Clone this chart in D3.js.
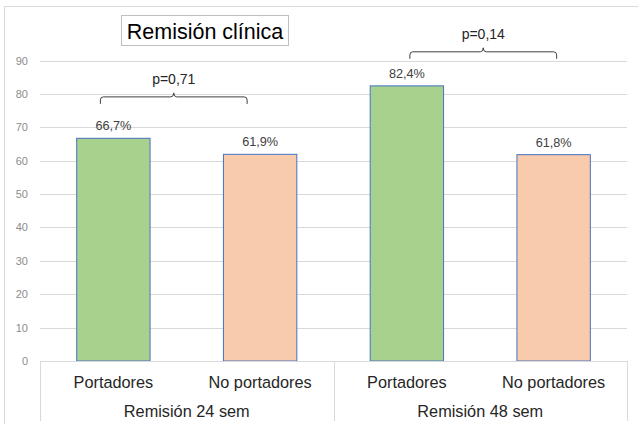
<!DOCTYPE html>
<html>
<head>
<meta charset="utf-8">
<script src="https://cdn.jsdelivr.net/npm/d3@7"></script>
<style>
  body { margin: 0; background: #fff; }
  svg { font-family: 'Liberation Sans', Arial, sans-serif; }
</style>
</head>
<body>
<div id="chart"></div>
<script>
// datos del gráfico
const grupos = ['Remisión 24 sem', 'Remisión 48 sem']
const categorias = ['Portadores', 'No portadores', 'Portadores', 'No portadores']
const valores = [66.7, 61.9, 82.4, 61.8]
const etiquetas = ['66,7%', '61,9%', '82,4%', '61,8%']
const colores = ['#a9d18e', '#f8cbad', '#a9d18e', '#f8cbad']
const yTicks = [0, 10, 20, 30, 40, 50, 60, 70, 80, 90]
const pValores = ['p=0,71', 'p=0,14']
const pNivel = [79.1, 92.6]

const width = 638
const height = 424
const margin = {top: 60.5, left: 40, right: 11, bottom: 63}
const plotBottom = 361

const svg = d3.select('#chart')
  .append('svg')
  .attr('width', width)
  .attr('height', height)

// marco exterior
svg.append('rect')
  .attr('x', 4.5).attr('y', 6.5)
  .attr('width', 640).attr('height', 430)
  .attr('fill', 'none')
  .attr('stroke', '#d9d9d9')

const x = d3.scaleBand()
  .domain(d3.range(categorias.length))
  .range([margin.left, width - margin.right])
  .paddingInner(0.5)
  .paddingOuter(0.25)

const y = d3.scaleLinear()
  .domain([0, 90])
  .range([plotBottom, margin.top])

// rejilla
svg.append('g')
  .selectAll('line')
  .data(yTicks.slice(1))
  .enter()
  .append('line')
  .attr('x1', margin.left)
  .attr('x2', width - margin.right)
  .attr('y1', d => Math.round(y(d)) + 0.5)
  .attr('y2', d => Math.round(y(d)) + 0.5)
  .attr('stroke', '#d9d9d9')

svg.append('g')
  .selectAll('text')
  .data(yTicks)
  .enter()
  .append('text')
  .attr('x', 28)
  .attr('y', d => y(d) + 4)
  .attr('text-anchor', 'end')
  .attr('font-size', 11)
  .attr('fill', '#8c8c8c')
  .text(d => d)

// barras
svg.append('g')
  .selectAll('rect')
  .data(valores)
  .enter()
  .append('rect')
  .attr('x', (d, i) => x(i))
  .attr('y', d => y(d))
  .attr('width', x.bandwidth())
  .attr('height', d => plotBottom - y(d))
  .attr('fill', (d, i) => colores[i])
  .attr('stroke', '#4472c4')
  .attr('stroke-width', 1)

svg.append('g')
  .selectAll('text')
  .data(valores)
  .enter()
  .append('text')
  .attr('x', (d, i) => x(i) + x.bandwidth() / 2)
  .attr('y', d => y(d) - 8)
  .attr('text-anchor', 'middle')
  .attr('font-size', 12.7)
  .attr('fill', '#404040')
  .text((d, i) => etiquetas[i])

// eje de categorías
const axis = svg.append('g')
axis.append('line')
  .attr('x1', margin.left).attr('x2', width - margin.right)
  .attr('y1', plotBottom + 0.5).attr('y2', plotBottom + 0.5)
  .attr('stroke', '#d9d9d9')

const step = x.step()
const separadores = [margin.left, margin.left + step * 2, width - margin.right]
axis.selectAll('line.sep')
  .data(separadores)
  .enter()
  .append('line')
  .attr('class', 'sep')
  .attr('x1', d => Math.round(d) + 0.5)
  .attr('x2', d => Math.round(d) + 0.5)
  .attr('y1', plotBottom)
  .attr('y2', 421)
  .attr('stroke', '#d9d9d9')

axis.selectAll('text.cat')
  .data(categorias)
  .enter()
  .append('text')
  .attr('class', 'cat')
  .attr('x', (d, i) => x(i) + x.bandwidth() / 2)
  .attr('y', 387.5)
  .attr('text-anchor', 'middle')
  .attr('font-size', 16.3)
  .attr('fill', '#262626')
  .text(d => d)

axis.selectAll('text.grp')
  .data(grupos)
  .enter()
  .append('text')
  .attr('class', 'grp')
  .attr('x', (d, i) => margin.left + step * (2 * i + 1))
  .attr('y', 416.5)
  .attr('text-anchor', 'middle')
  .attr('font-size', 16.3)
  .attr('fill', '#262626')
  .text(d => d)

// llaves con valor p
function llave (x0, x1, yy) {
  const xm = (x0 + x1) / 2
  const r = 3
  return `M${x0},${yy + 7} L${x0},${yy + r} Q${x0},${yy} ${x0 + r},${yy}` +
    ` L${xm - r},${yy} Q${xm},${yy} ${xm},${yy - 4} Q${xm},${yy} ${xm + r},${yy}` +
    ` L${x1 - r},${yy} Q${x1},${yy} ${x1},${yy + r} L${x1},${yy + 7}`
}

const llaves = svg.append('g')
pValores.forEach((p, g) => {
  const c0 = x(2 * g) + x.bandwidth() / 2
  const c1 = x(2 * g + 1) + x.bandwidth() / 2
  const off = g === 0 ? -13 : 3
  const x0 = c0 + off
  const x1 = c1 + off
  const yy = y(pNivel[g])
  llaves.append('path')
    .attr('d', llave(x0, x1, yy))
    .attr('fill', 'none')
    .attr('stroke', '#404040')
    .attr('stroke-width', 1)
  llaves.append('text')
    .attr('x', (x0 + x1) / 2)
    .attr('y', yy - 13)
    .attr('text-anchor', 'middle')
    .attr('font-size', 14)
    .attr('fill', '#262626')
    .text(p)
})

// título
svg.append('rect')
  .attr('x', 121.5).attr('y', 15.5)
  .attr('width', 167).attr('height', 30)
  .attr('fill', '#fff')
  .attr('stroke', '#bfbfbf')
svg.append('text')
  .attr('x', 205)
  .attr('y', 38.5)
  .attr('text-anchor', 'middle')
  .attr('font-size', 21.5)
  .attr('fill', '#000')
  .text('Remisión clínica')
</script>
</body>
</html>
